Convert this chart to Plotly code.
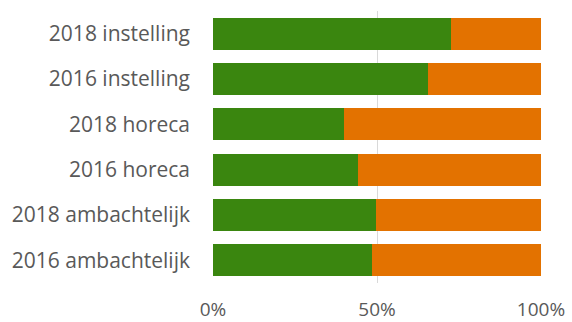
import plotly.graph_objects as go

categories = ["2018 instelling", "2016 instelling", "2018 horeca",
              "2016 horeca", "2018 ambachtelijk", "2016 ambachtelijk"]
green_vals = [72.7, 65.4, 39.9, 44.1, 49.6, 48.4]
orange_vals = [27.3, 34.6, 60.1, 55.9, 50.4, 51.6]
tick_vals = [0, 50, 100]
tick_text = ["0%", "50%", "100%"]

fig = go.Figure()
fig.add_trace(go.Bar(y=categories, x=green_vals, orientation="h",
                     marker=dict(color="#3A860F", line=dict(width=0)), name="groen"))
fig.add_trace(go.Bar(y=categories, x=orange_vals, orientation="h",
                     marker=dict(color="#E37200", line=dict(width=0)), name="oranje"))

fig.update_layout(
    barmode="stack",
    bargap=0.29,
    width=572, height=322,
    margin=dict(l=213, r=31, t=11, b=39),
    paper_bgcolor="white", plot_bgcolor="white",
    showlegend=False,
    font=dict(family="Open Sans, sans-serif", color="#595959", size=20),
)
fig.update_xaxes(range=[0, 100], tickvals=tick_vals, ticktext=tick_text,
                 showgrid=True, gridcolor="#D9D9D9", gridwidth=1,
                 zeroline=False, showline=False, ticks="", automargin=False,
                 ticklabelstandoff=13, tickfont=dict(size=19))
fig.update_yaxes(autorange="reversed", showgrid=False, showline=False,
                 ticks="", automargin=False,
                 ticklabelstandoff=22, tickfont=dict(size=21))

fig.write_html("out.html")
